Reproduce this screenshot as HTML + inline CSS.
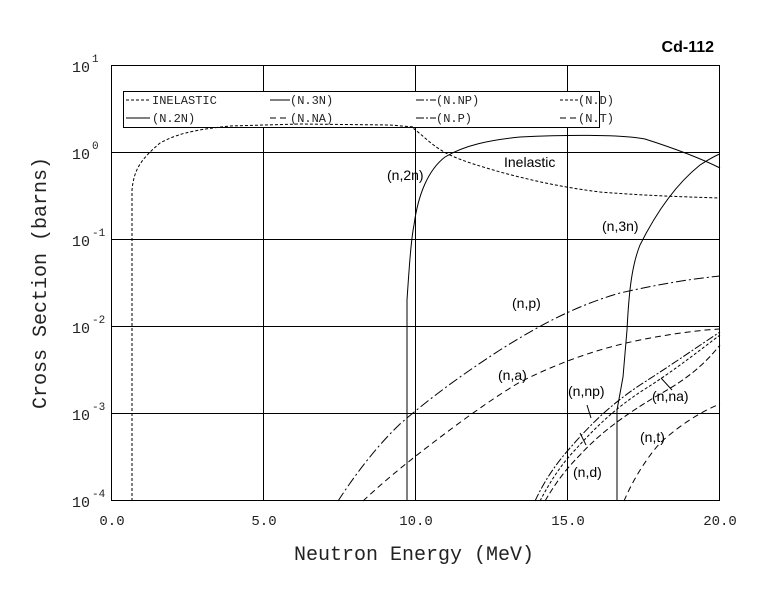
<!DOCTYPE html>
<html><head><meta charset="utf-8"><style>
html,body{margin:0;padding:0;background:#fff;}
svg{display:block;}
.t{font-family:"Liberation Mono",monospace;fill:#222;}
.l{font-family:"Liberation Sans",sans-serif;fill:#000;font-size:14px;}
</style></head><body>
<svg width="780" height="590" viewBox="0 0 780 590" xmlns="http://www.w3.org/2000/svg">
<rect width="780" height="590" fill="#fff"/>
<g stroke="#000" stroke-width="1" fill="none">
<rect x="111.5" y="65.5" width="608" height="435"/>
<line x1="263.5" y1="65" x2="263.5" y2="501"/>
<line x1="415.5" y1="65" x2="415.5" y2="501"/>
<line x1="567.5" y1="65" x2="567.5" y2="501"/>
<line x1="111" y1="152.5" x2="720" y2="152.5"/>
<line x1="111" y1="239.5" x2="720" y2="239.5"/>
<line x1="111" y1="326.5" x2="720" y2="326.5"/>
<line x1="111" y1="413.5" x2="720" y2="413.5"/>
</g>
<g id="ticks" stroke="#000" stroke-width="1"></g>
<rect x="123.5" y="91.5" width="476" height="36" fill="#fff" stroke="#000"/>
<g stroke="#000" stroke-width="1" fill="none">
<line x1="126" y1="100" x2="150" y2="100" stroke-dasharray="3,2"/>
<line x1="126" y1="118" x2="150" y2="118"/>
<line x1="270" y1="100" x2="290" y2="100"/>
<line x1="270" y1="118" x2="290" y2="118" stroke-dasharray="6,4"/>
<line x1="416" y1="100" x2="436" y2="100" stroke-dasharray="8,2,2,2"/>
<line x1="416" y1="118" x2="436" y2="118" stroke-dasharray="8,2,2,2"/>
<line x1="560" y1="100" x2="578" y2="100" stroke-dasharray="3,2"/>
<line x1="560" y1="118" x2="578" y2="118" stroke-dasharray="6,4"/>
</g>
<g class="t" font-size="12">
<text x="152" y="104">INELASTIC</text>
<text x="152" y="122">(N.2N)</text>
<text x="290" y="104">(N.3N)</text>
<text x="290" y="122">(N.NA)</text>
<text x="436" y="104">(N.NP)</text>
<text x="436" y="122">(N.P)</text>
<text x="578" y="104">(N.D)</text>
<text x="578" y="122">(N.T)</text>
</g>
<text x="714" y="52" text-anchor="end" style="font-family:'Liberation Sans',sans-serif;font-weight:bold;font-size:16px">Cd-112</text>
<g fill="none" stroke="#000" stroke-width="1">
<path stroke-dasharray="3,2" d="M132,501 L132,190 C134,170 140,160 160,143 C175,135 190,130 230,126 L300,124 L390,125 L414,127 L414,129 C425,137 433,147 450,155 C465,162 480,166 500,172 C530,180 560,187 600,192 C650,196 690,197 720,198"/>
<path d="M407,501 L407,300 C409,270 411,240 414,225 C418,195 428,170 445,157 C465,145 490,140 520,137 C560,135 620,134 645,139 C670,147 700,158 720,168"/>
<path d="M617,501 L617,410 L623,377 L627,330 C629,290 632,265 640,245 C655,215 675,185 700,165 C708,160 714,156 720,154"/>
<path stroke-dasharray="10,3,2,3" d="M338,501 C355,475 375,448 400,424 C430,398 460,376 500,350 C540,325 575,306 620,293 C660,284 690,279 720,276"/>
<path stroke-dasharray="6,4" d="M363,501 C380,485 400,468 430,445 C460,422 490,400 520,382 C560,362 600,348 640,340 C670,334 700,330 720,329"/>
<path stroke-dasharray="8,2,2,2" d="M535,501 C545,480 555,465 570,448 C590,425 610,405 640,385 C670,366 700,345 720,332"/>
<path stroke-dasharray="3,2" d="M540,501 C550,482 560,466 575,450 C595,428 615,408 645,389 C675,370 700,350 720,335"/>
<path stroke-dasharray="6,3" d="M545,501 C555,484 565,470 580,455 C600,433 625,415 655,397 C680,383 700,370 720,345"/>
<path stroke-dasharray="6,4" d="M624,501 C632,482 645,460 660,443 C680,425 700,412 720,404"/>
<line x1="587" y1="405" x2="591" y2="418"/>
<line x1="586" y1="445" x2="580" y2="433"/>
<line x1="672" y1="390" x2="661" y2="378"/>
</g>
<g class="l">
<text x="504" y="167">Inelastic</text>
<text x="387" y="180">(n,2n)</text>
<text x="602" y="231">(n,3n)</text>
<text x="512" y="308">(n,p)</text>
<text x="498" y="380">(n,a)</text>
<text x="568" y="396">(n,np)</text>
<text x="652" y="401">(n,na)</text>
<text x="573" y="477">(n,d)</text>
<text x="640" y="442">(n,t)</text>
</g>
<g class="t" font-size="14">
<text x="112" y="525" text-anchor="middle">0.0</text>
<text x="264" y="525" text-anchor="middle">5.0</text>
<text x="416" y="525" text-anchor="middle">10.0</text>
<text x="568" y="525" text-anchor="middle">15.0</text>
<text x="720" y="525" text-anchor="middle">20.0</text>
</g>
<g class="t" font-size="15">
<text x="72" y="72">10</text><text x="92" y="62" font-size="11">1</text>
<text x="72" y="159">10</text><text x="92" y="149" font-size="11">0</text>
<text x="72" y="246">10</text><text x="92" y="236" font-size="11">-1</text>
<text x="72" y="333">10</text><text x="92" y="323" font-size="11">-2</text>
<text x="72" y="420">10</text><text x="92" y="410" font-size="11">-3</text>
<text x="72" y="507">10</text><text x="92" y="497" font-size="11">-4</text>
</g>
<text class="t" x="414" y="560" text-anchor="middle" font-size="20">Neutron Energy (MeV)</text>
<text class="t" x="0" y="0" font-size="20" text-anchor="middle" transform="translate(46,283) rotate(-90)">Cross Section (barns)</text>
<script>
(function(){var g=document.getElementById('ticks'),s='';
function L(a,b,c,d){s+='<line x1="'+a+'" y1="'+b+'" x2="'+c+'" y2="'+d+'"/>';}
for(var e=1;e<20;e++){var x=111.5+e*30.4;L(x,501,x,493);L(x,65,x,73);}
for(var k=0;k<5;k++){for(var m=2;m<10;m++){var y=(501-87.2*k-87.2*Math.log10(m)).toFixed(1);L(111,y,118,y);L(720,y,713,y);}}
g.innerHTML=s;})();
</script>
</svg>
</body></html>
